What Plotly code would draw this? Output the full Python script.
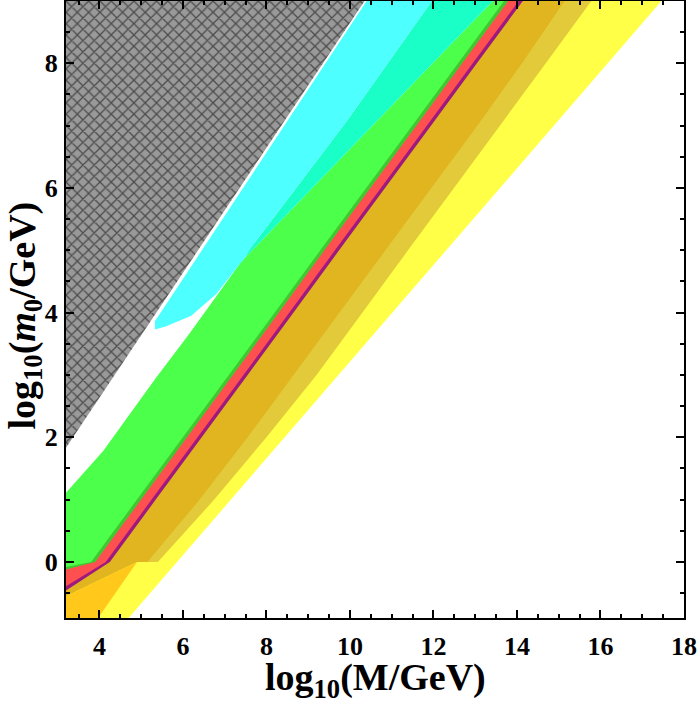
import plotly.graph_objects as go

# ---- axis ranges / ticks ----
X_RANGE = [3.2, 18.0]
Y_RANGE = [-0.9, 9.0]
X_TICKS = [4, 6, 8, 10, 12, 14, 16, 18]
Y_TICKS = [0, 2, 4, 6, 8]
X_TITLE = "log<sub>10</sub>(M/GeV)"
Y_TITLE = "log<sub>10</sub>(<i>m</i><sub>0</sub>/GeV)"

# ---- band boundaries above log10(m0)=0 (x values at these y levels) ----
Y_LEVELS = [0, 1, 2, 3, 4, 5, 6, 7, 8, 9]
PURPLE_RIGHT_X = [4.25, 5.35, 6.45, 7.55, 8.65, 9.74, 10.84, 11.94, 13.04, 14.14]
PURPLE_LEFT_X = [4.15, 5.25, 6.35, 7.45, 8.55, 9.64, 10.74, 11.84, 12.94, 14.04]
RED_LEFT_X = [3.90, 5.00, 6.10, 7.20, 8.30, 9.39, 10.49, 11.59, 12.69, 13.79]
DKGREEN_LEFT_X = [3.80, 4.90, 6.00, 7.10, 8.20, 9.29, 10.39, 11.49, 12.59, 13.69]
DARKGOLD_RIGHT_X = [5.15, 6.40, 7.55, 8.65, 9.75, 10.85, 11.95, 13.05, 14.12, 15.14]
LIGHTGOLD_RIGHT_X = [5.40, 6.75, 8.00, 9.20, 10.30, 11.39, 12.49, 13.59, 14.69, 15.78]

# yellow / white edge
YELLOW_EDGE_X = [4.70, 17.46]
YELLOW_EDGE_Y = [-0.9, 9.0]

# upper-left edge of the green region
GREEN_TOP_X = [3.20, 4.09, 5.33, 6.14, 7.40, 10.64, 13.42]
GREEN_TOP_Y = [1.11, 1.78, 2.93, 3.65, 4.82, 7.07, 9.00]

# cyan region
CYAN_TEAL_X = [7.45, 7.60, 9.92, 11.96]
CYAN_TEAL_Y = [4.85, 5.02, 7.07, 9.00]
CYAN_BOTTOM_X = [5.33, 5.60, 6.20, 6.80, 7.36, 7.45]
CYAN_BOTTOM_Y = [3.73, 3.78, 3.95, 4.30, 4.78, 4.85]
CYAN_LEFT_X = [5.33, 10.40]
CYAN_LEFT_Y = [3.86, 9.00]

# excluded (hatched) region edge
HATCH_EDGE_X = [3.20, 10.35]
HATCH_EDGE_Y = [1.83, 9.00]

# ---- below log10(m0)=0 ----
ORANGE_X = [3.20, 3.97, 4.90, 3.20]
ORANGE_Y = [-0.90, -0.90, 0.00, -0.55]
DARKGOLD_LOW_X = [3.20, 4.90]
DARKGOLD_LOW_Y = [-0.55, 0.00]
PURPLE_LOW_X = [3.20, 4.25]
PURPLE_LOW_Y = [-0.46, 0.00]
RED_LOW_X = [3.20, 4.15]
RED_LOW_Y = [-0.39, 0.00]
DKGREEN_LOW_X = [3.20, 3.90]
DKGREEN_LOW_Y = [-0.12, 0.00]
GREEN_LOW_X = [3.20, 3.80]
GREEN_LOW_Y = [-0.08, 0.00]

# ---- colours ----
C_YELLOW = "#FFFF47"
C_LIGHTGOLD = "#E2CA3A"
C_DARKGOLD = "#E0B520"
C_PURPLE = "#9E1A7E"
C_RED = "#FF5050"
C_DKGREEN = "#40C830"
C_GREEN = "#4BFF4B"
C_TEAL = "#1AFFC8"
C_CYAN = "#4DFFFF"
C_ORANGE = "#FFC81A"
C_HATCH_BG = "#999999"

x0, x1 = X_RANGE
y0, y1 = Y_RANGE

fig = go.Figure()


def poly(xs, ys, color, **kw):
    fig.add_trace(go.Scatter(x=list(xs), y=list(ys), fill="toself", mode="none",
                             fillcolor=color, hoverinfo="skip", **kw))


def left_of(bx, by, color, ybot):
    xs = list(bx) + [x0, x0]
    ys = list(by) + [by[-1], ybot]
    poly(xs, ys, color)


# yellow (down to the bottom)
left_of(YELLOW_EDGE_X, YELLOW_EDGE_Y, C_YELLOW, y0)
# bands above zero
left_of(LIGHTGOLD_RIGHT_X, Y_LEVELS, C_LIGHTGOLD, 0)
left_of(DARKGOLD_RIGHT_X, Y_LEVELS, C_DARKGOLD, 0)
left_of(PURPLE_RIGHT_X, Y_LEVELS, C_PURPLE, 0)
left_of(PURPLE_LEFT_X, Y_LEVELS, C_RED, 0)
left_of(RED_LEFT_X, Y_LEVELS, C_DKGREEN, 0)
left_of(DKGREEN_LEFT_X, Y_LEVELS, C_GREEN, 0)

# white area above the green region
poly(GREEN_TOP_X + [x0], GREEN_TOP_Y + [y1], "white")

# teal wedge
tx = CYAN_TEAL_X + [GREEN_TOP_X[-1]] + [10.64, 7.40]
ty = CYAN_TEAL_Y + [GREEN_TOP_Y[-1]] + [7.07, 4.82]
poly(tx, ty, C_TEAL)

# cyan
cx = CYAN_LEFT_X + CYAN_TEAL_X[::-1] + CYAN_BOTTOM_X[::-1]
cy = CYAN_LEFT_Y + CYAN_TEAL_Y[::-1] + CYAN_BOTTOM_Y[::-1]
poly(cx, cy, C_CYAN)

# hatched region
fig.add_trace(go.Scatter(
    x=HATCH_EDGE_X + [x0], y=HATCH_EDGE_Y + [y1], fill="toself", mode="none",
    fillcolor=C_HATCH_BG, hoverinfo="skip",
    fillpattern=dict(shape="x", bgcolor=C_HATCH_BG, fgcolor="#000000", size=8, solidity=0.3)))

# below zero
poly(DARKGOLD_LOW_X + [x0], DARKGOLD_LOW_Y + [0], C_DARKGOLD)
poly(PURPLE_LOW_X + [x0], PURPLE_LOW_Y + [0], C_PURPLE)
poly(RED_LOW_X + [x0], RED_LOW_Y + [0], C_RED)
poly(DKGREEN_LOW_X + [x0], DKGREEN_LOW_Y + [0], C_DKGREEN)
poly(GREEN_LOW_X + [x0], GREEN_LOW_Y + [0], C_GREEN)
poly(ORANGE_X, ORANGE_Y, C_ORANGE)

FONT = "Liberation Serif"
axis_common = dict(
    showgrid=False, zeroline=False, showline=True, linewidth=2, linecolor="black",
    mirror="allticks", ticks="inside", ticklen=8, tickwidth=2, tickcolor="black",
    automargin=False,
    tickfont=dict(family=FONT, size=26, color="black", weight="bold"),
    minor=dict(ticks="inside", ticklen=4, tickwidth=1.5, tickcolor="black", dtick=0.5),
)

fig.update_layout(
    width=700, height=701,
    margin=dict(l=66, r=16, t=1, b=83),
    plot_bgcolor="white", paper_bgcolor="white",
    showlegend=False,
    xaxis=dict(range=X_RANGE, tickvals=X_TICKS, ticklabelstandoff=4, **axis_common),
    yaxis=dict(range=Y_RANGE, tickvals=Y_TICKS, ticklabelstandoff=1, **axis_common),
)

title_font = dict(family=FONT, size=38, color="black", weight="bold")
fig.add_annotation(text=X_TITLE, xref="paper", yref="paper", x=0.5, y=0,
                   xanchor="center", yanchor="middle", yshift=-62, showarrow=False,
                   font=title_font)
fig.add_annotation(text=Y_TITLE, xref="paper", yref="paper", x=0, y=0.5,
                   xanchor="center", yanchor="middle", xshift=-42, yshift=-6,
                   textangle=-90, showarrow=False, font=title_font)

fig.write_html("out.html", config={"displayModeBar": False},
               post_script="document.body.style.margin='0px';")
